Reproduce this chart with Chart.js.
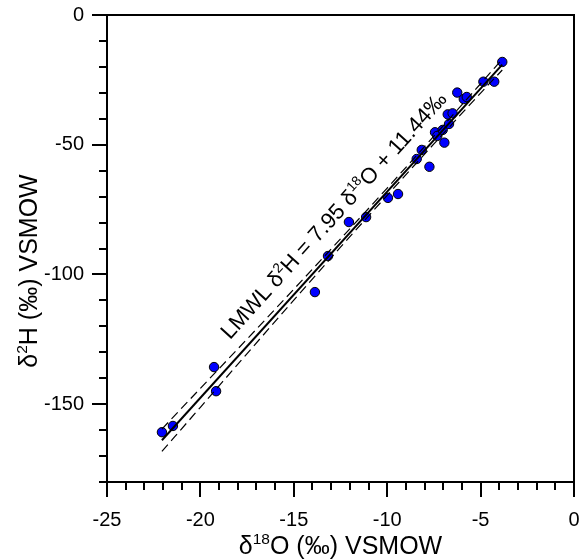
<!DOCTYPE html>
<html>
<head>
<meta charset="utf-8">
<script src="https://cdn.jsdelivr.net/npm/chart.js@4.4.1/dist/chart.umd.min.js"></script>
<style>
  html, body { margin: 0; padding: 0; background: #fff; }
  #wrap { width: 581px; height: 560px; }
</style>
</head>
<body>
<div id="wrap"><canvas id="c" width="581" height="560"></canvas></div>
<script>
// ---- data ----
const sampleO18 = [-22.06, -21.47, -19.27, -19.16, -13.87, -13.17, -12.05, -11.13, -9.96, -9.42,
                   -8.42, -8.15, -7.74, -7.44, -7.32, -7.03, -6.94, -6.69, -6.76, -6.50,
                   -6.25, -5.90, -5.74, -4.85, -4.27, -3.84];
const sampleH2 = [-160.8, -158.4, -135.7, -145.0, -106.8, -92.9, -79.8, -77.9, -70.5, -69.0,
                  -55.5, -52.0, -58.5, -45.2, -46.6, -44.3, -49.2, -42.0, -38.3, -37.9,
                  -29.9, -32.4, -31.6, -25.7, -25.7, -18.1];
// LMWL regression line end points
const lmwlO18 = [-22.06, -3.84];
const lmwlH2 = [-163.9, -19.1];
// confidence band (dashed)
const bandO18 = [-22.06, -20, -17.5, -15, -12.5, -10, -7.5, -5, -3.84];
const bandUpperH2 = [-159.6, -143.9, -124.9, -105.7, -86.3, -66.7, -46.7, -26.5, -17.0];
const bandLowerH2 = [-168.2, -151.2, -130.5, -109.9, -89.5, -69.5, -49.7, -30.1, -21.2];
// axis ticks
const xTickValues = [-25, -20, -15, -10, -5, 0];
const yTickValues = [0, -50, -100, -150];
const xRange = [-25, 0];
const yRange = [-180, 0];
// texts
const xTitle = [{t: 'δ'}, {t: '18', sup: true}, {t: 'O (‰) VSMOW'}];
const yTitle = [{t: 'δ'}, {t: '2', sup: true}, {t: 'H (‰) VSMOW'}];
const eqText = [{t: 'LMWL δ'}, {t: '2', sup: true}, {t: 'H = 7.95 δ'}, {t: '18', sup: true}, {t: 'O + 11.44‰'}];
const eqAnchor = {x: -12.9, y: -77.0};

const FONT = '"Liberation Sans", Arial, sans-serif';

function pts(xs, ys) { return xs.map((x, i) => ({x: x, y: ys[i]})); }

function drawRich(ctx, segs, x, y, size, angle) {
  ctx.save();
  ctx.translate(x, y);
  ctx.rotate(angle);
  ctx.fillStyle = '#000';
  ctx.textBaseline = 'alphabetic';
  ctx.textAlign = 'left';
  let total = 0;
  const widths = segs.map(s => {
    ctx.font = (s.sup ? size * 0.62 : size) + 'px ' + FONT;
    const w = ctx.measureText(s.t).width;
    total += w;
    return w;
  });
  let cx = -total / 2;
  const base = size * 0.36;
  segs.forEach((s, i) => {
    ctx.font = (s.sup ? size * 0.62 : size) + 'px ' + FONT;
    ctx.fillText(s.t, cx, s.sup ? base - size * 0.4 : base);
    cx += widths[i];
  });
  ctx.restore();
}

const decor = {
  id: 'decor',
  afterDraw(chart) {
    const ctx = chart.ctx;
    const a = chart.chartArea;
    const xs = chart.scales.x, ys = chart.scales.y;
    ctx.save();
    ctx.strokeStyle = '#000';
    ctx.lineWidth = 2;
    ctx.lineCap = 'butt';
    ctx.strokeRect(a.left, a.top, a.right - a.left, a.bottom - a.top);
    ctx.beginPath();
    for (let v = xRange[0]; v <= xRange[1]; v += 1) {
      const px = Math.round(xs.getPixelForValue(v));
      const len = (v % 5 === 0) ? 15 : 8;
      ctx.moveTo(px, a.bottom);
      ctx.lineTo(px, a.bottom + len);
    }
    for (let v = yRange[0]; v <= yRange[1]; v += 10) {
      const py = Math.round(ys.getPixelForValue(v));
      const len = (v % 50 === 0) ? 15 : 8;
      ctx.moveTo(a.left, py);
      ctx.lineTo(a.left - len, py);
    }
    ctx.stroke();
    ctx.restore();
    drawRich(ctx, xTitle, (a.left + a.right) / 2, 545, 25, 0);
    drawRich(ctx, yTitle, 28, 271, 25, -Math.PI / 2);
    const p1x = xs.getPixelForValue(lmwlO18[0]), p1y = ys.getPixelForValue(lmwlH2[0]);
    const p2x = xs.getPixelForValue(lmwlO18[1]), p2y = ys.getPixelForValue(lmwlH2[1]);
    const ang = Math.atan2(p2y - p1y, p2x - p1x);
    drawRich(ctx, eqText, xs.getPixelForValue(eqAnchor.x), ys.getPixelForValue(eqAnchor.y), 22, ang);
  }
};

new Chart(document.getElementById('c'), {
  type: 'scatter',
  data: {
    datasets: [
      {
        type: 'line', data: pts(lmwlO18, lmwlH2), borderColor: '#000', borderWidth: 2,
        pointRadius: 0, fill: false
      },
      {
        type: 'line', data: pts(bandO18, bandUpperH2), borderColor: '#000', borderWidth: 1.2,
        borderDash: [9, 5], pointRadius: 0, fill: false, cubicInterpolationMode: 'monotone'
      },
      {
        type: 'line', data: pts(bandO18, bandLowerH2), borderColor: '#000', borderWidth: 1.2,
        borderDash: [9, 5], pointRadius: 0, fill: false, cubicInterpolationMode: 'monotone'
      },
      {
        type: 'scatter', data: pts(sampleO18, sampleH2), backgroundColor: '#0000ff',
        borderColor: '#000', borderWidth: 1, pointRadius: 4.7
      }
    ]
  },
  options: {
    responsive: false,
    animation: false,
    devicePixelRatio: 1,
    layout: { padding: { top: 15, right: 7, left: 0, bottom: 0 } },
    plugins: { legend: { display: false }, tooltip: { enabled: false } },
    scales: {
      x: {
        type: 'linear', min: xRange[0], max: xRange[1],
        afterBuildTicks: s => { s.ticks = xTickValues.map(v => ({value: v})); },
        afterFit: s => { s.height = 78; s.paddingLeft = 0; s.paddingRight = 0; s.paddingTop = 0; s.paddingBottom = 0; },
        grid: { display: false, drawTicks: false },
        border: { display: false },
        ticks: { color: '#000', font: { family: FONT, size: 20 }, padding: 26, autoSkip: false, maxRotation: 0 }
      },
      y: {
        type: 'linear', min: yRange[0], max: yRange[1],
        afterBuildTicks: s => { s.ticks = yTickValues.map(v => ({value: v})); },
        afterFit: s => { s.width = 107; s.paddingLeft = 0; s.paddingRight = 0; s.paddingTop = 0; s.paddingBottom = 0; },
        grid: { display: false, drawTicks: false },
        border: { display: false },
        ticks: { color: '#000', font: { family: FONT, size: 20 }, padding: 23, autoSkip: false }
      }
    }
  },
  plugins: [decor]
});
</script>
</body>
</html>
